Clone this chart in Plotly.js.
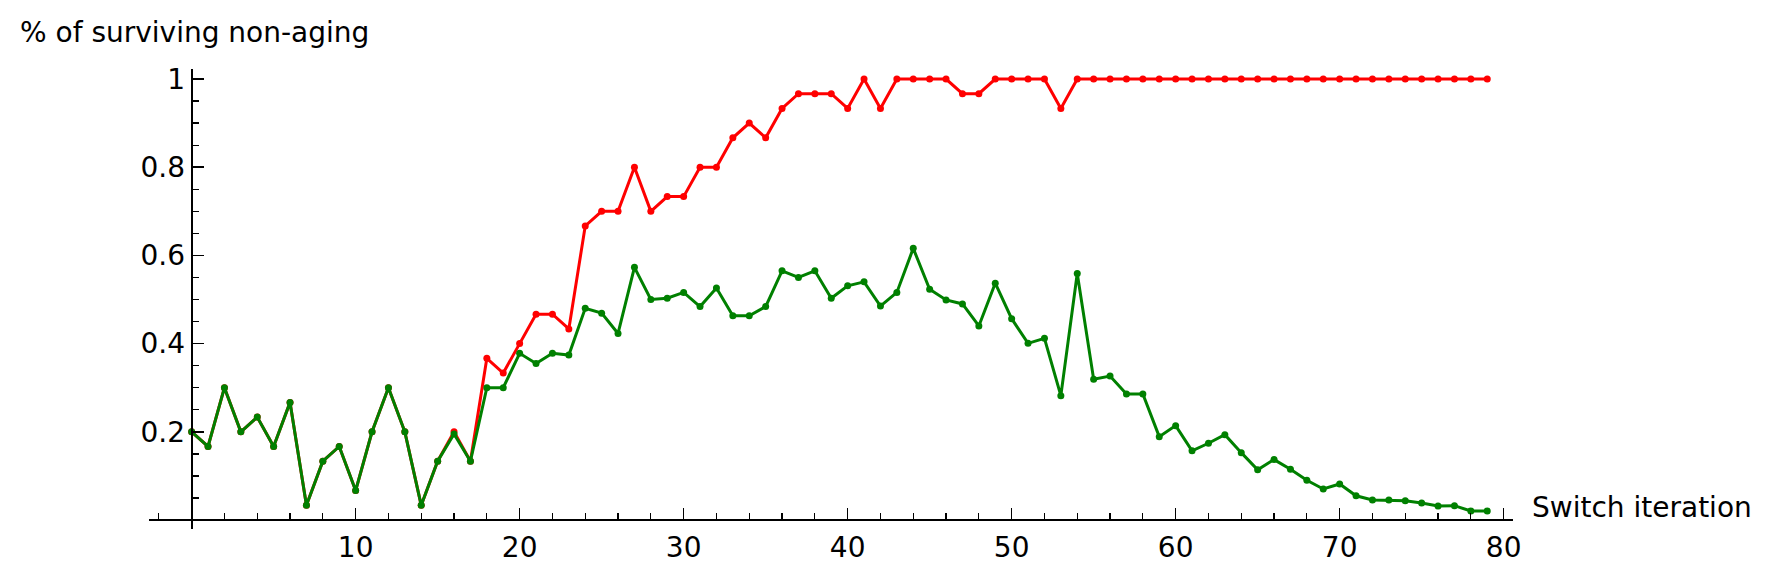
<!DOCTYPE html>
<html>
<head>
<meta charset="utf-8">
<script src="https://cdn.plot.ly/plotly-3.0.1.min.js"></script>
<style>
  html, body { margin: 0; padding: 0; background: #ffffff; }
  #chart { width: 1769px; height: 572px; }
</style>
</head>
<body>
<div id="chart"></div>
<script>
// Switch iteration (0..79)
const iterations = Array.from({length: 80}, (_, i) => i);

// Red series
const redValues = [
  0.2, 0.1667, 0.3, 0.2, 0.2333, 0.1667, 0.2667, 0.0333, 0.1333, 0.1667,
  0.0667, 0.2, 0.3, 0.2, 0.0333, 0.1333, 0.2, 0.1333, 0.3667, 0.3333,
  0.4, 0.4667, 0.4667, 0.4333, 0.6667, 0.7, 0.7, 0.8, 0.7, 0.7333,
  0.7333, 0.8, 0.8, 0.8667, 0.9, 0.8667, 0.9333, 0.9667, 0.9667, 0.9667,
  0.9333, 1, 0.9333, 1, 1, 1, 1, 0.9667, 0.9667, 1,
  1, 1, 1, 0.9333, 1, 1, 1, 1, 1, 1,
  1, 1, 1, 1, 1, 1, 1, 1, 1, 1,
  1, 1, 1, 1, 1, 1, 1, 1, 1, 1
];

// Green series
const greenValues = [
  0.2, 0.1667, 0.3, 0.2, 0.2333, 0.1667, 0.2667, 0.0333, 0.1333, 0.1667,
  0.0667, 0.2, 0.3, 0.2, 0.0333, 0.1333, 0.195, 0.1333, 0.3, 0.3,
  0.378, 0.355, 0.378, 0.374, 0.48, 0.469, 0.423, 0.573, 0.5, 0.503,
  0.516, 0.484, 0.526, 0.463, 0.463, 0.484, 0.565, 0.55, 0.565, 0.503,
  0.531, 0.54, 0.485, 0.516, 0.616, 0.523, 0.499, 0.49, 0.44, 0.537,
  0.4565, 0.4006, 0.412, 0.282, 0.559, 0.319, 0.3265, 0.2857, 0.2857, 0.189,
  0.214, 0.157, 0.174, 0.1935, 0.1527, 0.114, 0.137, 0.115, 0.09, 0.0703,
  0.0816, 0.055, 0.0454, 0.0454, 0.0438, 0.0385, 0.0317, 0.0325, 0.0204, 0.0204
];

// Small blue segment near the origin
const blueX = [-1, 1];
const blueY = [0, 0];

// Tick labels
const xTickVals = [10, 20, 30, 40, 50, 60, 70, 80];
const xTickText = ['10', '20', '30', '40', '50', '60', '70', '80'];
const yTickVals = [0.2, 0.4, 0.6, 0.8, 1];
const yTickText = ['0.2', '0.4', '0.6', '0.8', '1'];

const FONT = 'DejaVu Sans, Liberation Sans, sans-serif';
const FS = 28;

const traces = [
  {
    x: blueX, y: blueY, type: 'scatter', mode: 'lines',
    line: {color: '#0000ff', width: 1.5}, hoverinfo: 'skip'
  },
  {
    x: iterations, y: redValues, type: 'scatter', mode: 'lines+markers',
    line: {color: '#ff0000', width: 3}, marker: {color: '#ff0000', size: 7}
  },
  {
    x: iterations, y: greenValues, type: 'scatter', mode: 'lines+markers',
    line: {color: '#008000', width: 3}, marker: {color: '#008000', size: 7}
  }
];

const layout = {
  width: 1769, height: 572,
  margin: {l: 149, r: 256, t: 69, b: 43, pad: 0},
  paper_bgcolor: '#ffffff', plot_bgcolor: '#ffffff',
  showlegend: false,
  font: {family: FONT, size: FS, color: '#000000'},
  xaxis: {
    range: [-2.6, 80.57],
    anchor: 'free', position: 0.01956,
    showgrid: false, zeroline: false,
    showline: true, linecolor: '#000000', linewidth: 2,
    ticks: 'inside', ticklen: 11, tickwidth: 1.5, tickcolor: '#000000',
    tickmode: 'array', tickvals: xTickVals, ticktext: xTickText,
    ticklabelstandoff: 2,
    tickfont: {family: FONT, size: FS, color: '#000000'},
    minor: {ticks: 'inside', dtick: 2, tick0: 0, ticklen: 6, tickwidth: 1.3, tickcolor: '#000000', showgrid: false}
  },
  yaxis: {
    range: [-0.0204, 1.0227],
    anchor: 'free', position: 0.03126,
    showgrid: false, zeroline: false,
    showline: true, linecolor: '#000000', linewidth: 2,
    ticks: 'inside', ticklen: 11, tickwidth: 1.5, tickcolor: '#000000',
    tickmode: 'array', tickvals: yTickVals, ticktext: yTickText,
    tickfont: {family: FONT, size: FS, color: '#000000'},
    minor: {ticks: 'inside', dtick: 0.05, tick0: 0, ticklen: 6, tickwidth: 1.3, tickcolor: '#000000', showgrid: false}
  },
  annotations: [
    {
      text: '% of surviving non-aging', xref: 'paper', yref: 'paper',
      x: -0.0962, y: 1.0804, xanchor: 'left', yanchor: 'middle',
      showarrow: false, font: {family: FONT, size: FS, color: '#000000'}
    },
    {
      text: 'Switch iteration', xref: 'paper', yref: 'paper',
      x: 1.0125, y: 0.046, xanchor: 'left', yanchor: 'middle',
      showarrow: false, font: {family: FONT, size: FS, color: '#000000'}
    }
  ]
};

Plotly.newPlot('chart', traces, layout, {displayModeBar: false, staticPlot: true});
</script>
</body>
</html>
